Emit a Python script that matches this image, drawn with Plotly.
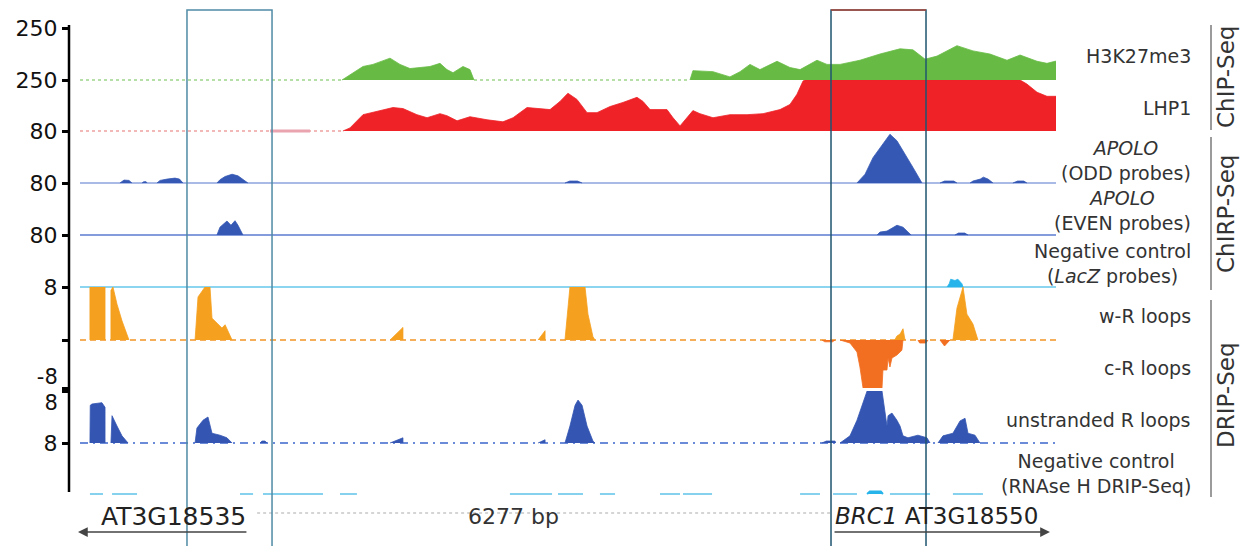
import plotly.graph_objects as go

PAGE_OFFSET = 8                          # default body margin of the html page
W, H = 1250 - PAGE_OFFSET, 546 - PAGE_OFFSET
VIEW_START, VIEW_END = 0, 6277          # bp shown in the browser window
FONT = 'DejaVu Sans'

# ---- ChIP-Seq coverage -------------------------------------------------------
H3K27_POS = [1685, 1736, 1820, 1884, 1994, 2058, 2122, 2187, 2251, 2315, 2360, 2399, 2463, 2508, 2534, None,
             3923, 3942, 4071, 4180, 4245, 4309, 4373, 4483, 4566, 4631, 4740, 4804, 4888, 5016, 5145,
             5274, 5357, 5435, 5512, 5640, 5743, 5852, 5962, 6046, 6155, 6219, 6271, 6277, 6277]
H3K27_VAL = [0, 25, 65, 75, 105, 75, 55, 60, 65, 80, 50, 35, 65, 50, 0, None,
             0, 45, 40, 15, 40, 75, 50, 90, 60, 50, 95, 75, 75, 95, 125,
             150, 145, 100, 115, 165, 140, 125, 95, 120, 90, 80, 90, 90, 0]

LHP1_POS = [1691, 1736, 1820, 1910, 2013, 2077, 2167, 2232, 2315, 2360, 2425, 2508, 2618, 2720, 2785,
            2875, 2939, 3023, 3087, 3138, 3196, 3261, 3325, 3409, 3492, 3582, 3621, 3666, 3775, 3814,
            3859, 3942, 3987, 4071, 4180, 4290, 4393, 4502, 4566, 4611, 4650, 4663, 6046, 6090, 6155,
            6219, 6258, 6277, 6277]
LHP1_VAL = [0, 15, 80, 95, 115, 110, 80, 65, 85, 75, 50, 70, 55, 45, 65,
            115, 110, 105, 145, 185, 155, 90, 90, 120, 140, 165, 145, 105, 105, 65,
            25, 100, 85, 65, 80, 80, 85, 105, 130, 180, 245, 250, 250, 230, 190,
            170, 170, 170, 0]
LHP1_LOW = [1222, 1479]     # weak signal stretch left of the LHP1 block

# ---- ChIRP-Seq coverage ------------------------------------------------------
ODD_POS = [257, 283, 315, 334, None, 399, 410, 425, 431, None, 495, 515, 560, 611, 640, 662, None,
           881, 900, 933, 978, 1016, 1048, 1080, None, 3119, 3150, 3200, 3229, None,
           4997, 5049, 5100, 5145, 5209, 5254, 5306, 5357, 5415, None, 5531, 5560, 5620, 5640, None,
           5724, 5743, 5790, 5810, 5840, 5872, None, 6000, 6030, 6070, 6090]
ODD_VAL = [0, 4.5, 4, 0, None, 0, 2, 2, 0, None, 0, 4, 6, 7.5, 6, 0, None,
           0, 5, 10, 13.5, 11, 6, 0, None, 0, 3, 3, 0, None,
           0, 13.5, 39, 54, 75, 65, 45, 24, 0, None, 0, 3, 3, 0, None,
           0, 3, 6, 9, 6, 0, None, 0, 3, 3, 0]

EVEN_POS = [881, 900, 945, 971, 997, 1016, 1048, None, 5126, 5145, 5190, 5254, 5293, 5338, 5345, None,
            5627, 5650, 5690, 5711]
EVEN_VAL = [0, 12, 21.5, 15, 22, 15, 0, None, 0, 4.5, 6, 15, 12, 1.5, 0, None,
            0, 3, 3, 0]

LACZ_POS = [5576, 5590, 5600, 5627, 5646, 5672, 5679]
LACZ_VAL = [0, 5, 12, 10, 12, 5, 0]

# ---- DRIP-Seq coverage -------------------------------------------------------
WR_POS = [64, 64, 161, 161, None, 199, 199, 212, 238, 270, 302, 315, None,
          740, 752, 759, 804, 836, 849, 881, 913, 933, 965, 978, None, 1994, 2077, 2077, None,
          2946, 2991, 2991, None, 3119, 3151, 3248, 3267, 3299, 3312, None,
          5240, 5254, 5274, 5293, 5306, None, 5614, 5640, 5679, 5704, 5743, 5775]
WR_VAL = [0, 8, 8, 0, None, 0, 7.5, 8, 5.4, 2.9, 0.6, 0, None,
          0, 4.1, 6.5, 8, 8, 3.3, 2.6, 1.8, 2.3, 0.6, 0, None, 0, 1.9, 0, None,
          0, 1.4, 0, None, 0, 8, 8, 3.9, 0.5, 0, None,
          0, 0.6, 0.9, 1.7, 0, None, 0, 4.8, 8, 3.9, 2.4, 0]

CR_POS = [4772, 4790, 4840, 4856, None, 4888, 4952, 4997, 5016, 5036, 5158, 5164, 5190, 5197, 5209,
          5222, 5254, 5286, 5293, None, 5389, 5400, 5440, 5454, None, 5531, 5560, 5595]
CR_VAL = [0, -0.3, -0.3, 0, None, 0, -0.5, -2, -4.5, -8, -8, -5, -5, -3, -4.5,
          -3, -2.5, -1.7, 0, None, 0, -0.5, -0.5, 0, None, 0, -1, 0]

UNSTR_POS = [64, 66, 77, 141, 161, 161, None, 199, 206, 238, 270, 309, None,
             740, 752, 791, 823, 849, 900, 945, 978, None, 1158, 1170, 1190, 1203, None,
             1994, 2077, 2077, None, 2946, 2991, 2991, None,
             3119, 3151, 3184, 3203, 3229, 3261, 3299, 3312, None, 4772, 4800, 4856, 4860, None,
             4888, 4952, 4997, 5029, 5062, 5158, 5177, 5190, 5197, 5222, 5254, 5274, 5293, 5325,
             5389, 5447, 5467, None, 5518, 5550, 5614, 5660, 5692, 5711, 5756, 5788]
UNSTR_VAL = [0, 5.8, 6.0, 6.2, 5.5, 0, None, 0, 4.2, 2.6, 1.1, 0, None,
             0, 2.3, 3.5, 4, 1.5, 1.2, 0.8, 0, None, 0, 0.3, 0.3, 0, None,
             0, 0.8, 0, None, 0, 0.5, 0, None,
             0, 2.6, 5.8, 6.6, 5.8, 2.6, 0.3, 0, None, 0, 0.3, 0.3, 0, None,
             0, 1.1, 3.5, 5.7, 8, 8, 4.9, 2.6, 4.2, 4.6, 3.5, 2.6, 1.1, 0.8,
             1.2, 0.8, 0, None, 0, 1.1, 1.5, 3.4, 3.8, 1.5, 1.2, 0]

RNASE_START = [64, 206, 1029, 1177, 1672, 2765, 3074, 3344, 3730, 3878, 4631, 4843, 5209, 5614]
RNASE_END = [148, 367, 1113, 1563, 1781, 3036, 3235, 3441, 3859, 4065, 4759, 4997, 5467, 5807]
RNASE_BUMP_POS = [5062, 5080, 5150, 5164]
RNASE_BUMP_VAL = [0, 0.4, 0.4, 0]

# ---- annotation --------------------------------------------------------------
GENE_LABELS = ['AT3G18535', '<i>BRC1</i> AT3G18550']
GENE_TAIL = [1080, 4843]
GENE_HEAD = [-13, 6238]
WINDOW_LABEL = '6277 bp'
WINDOW_LABEL_POS = 2785
HIGHLIGHT_START = [688, 4830]
HIGHLIGHT_END = [1235, 5441]


def py(p):
    # page pixel row -> paper fraction
    return 1 - (p - PAGE_OFFSET) / H


def pxx(p):
    # page pixel column -> paper fraction
    return (p - PAGE_OFFSET) / W


# axis id, top px, baseline px, max value, tick values, tick text, label shift, label size
TRACKS = [
    ('y', 28, 80, 250, [250], ['250'], 0, 22),
    ('y2', 80, 131, 250, [250], ['250'], 0, 22),
    ('y3', 131, 183, 80, [80], ['80'], 0, 22),
    ('y4', 183, 235, 80, [80], ['80'], 0, 22),
    ('y5', 235, 287, 80, [80], ['80'], 0, 22),
    ('y6', 287, 340, 8, [0, 8], ['', '8'], 0, 22),
    ('y7', 340, 388, -8, [-8], ['-8'], -11, 21),
    ('y8', 391, 443, 8, [8], ['8'], 12, 21),
    ('y9', 443, 494, 8, [8], ['8'], 0, 22),
]


def area(x, y, color, axis, lw=0.8):
    return go.Scatter(x=x, y=y, xaxis='x', yaxis=axis, mode='lines',
                      line=dict(color=color, width=lw), fill='tozeroy', fillcolor=color,
                      hoverinfo='skip', showlegend=False)


def segs(starts, ends):
    xs, ys = [], []
    for s, e in zip(starts, ends):
        xs += [s, e, None]
        ys += [0, 0, None]
    return xs, ys


fig = go.Figure()


def baseline(axis, x, color, width, dash='solid'):
    fig.add_trace(go.Scatter(x=x, y=[0 if v is not None else None for v in x], xaxis='x', yaxis=axis,
                             mode='lines', line=dict(color=color, width=width, dash=dash),
                             hoverinfo='skip', showlegend=False))


baseline('y', [VIEW_START, H3K27_POS[0], None, H3K27_POS[14], H3K27_POS[16]], '#9fd38a', 1.5, 'dot')
baseline('y2', [VIEW_START, LHP1_POS[0]], '#eea0a0', 1.5, 'dot')
baseline('y2', LHP1_LOW, '#e9a4b0', 3)
baseline('y3', [VIEW_START, VIEW_END], '#8ea3de', 1.5)
baseline('y4', [VIEW_START, VIEW_END], '#5b7bd0', 1.5)
baseline('y5', [VIEW_START, VIEW_END], '#8cd5f0', 2)
baseline('y6', [VIEW_START, VIEW_END], '#f5ae5a', 2, '6px,4px')
baseline('y8', [VIEW_START, VIEW_END], '#6b8bd8', 2, '8px,5px,2px,5px')

rx, ry = segs(RNASE_START, RNASE_END)
fig.add_trace(go.Scatter(x=rx, y=ry, xaxis='x', yaxis='y9', mode='lines',
                         line=dict(color='#86d2ee', width=2), hoverinfo='skip', showlegend=False))

fig.add_trace(area(H3K27_POS, H3K27_VAL, '#67bb45', 'y'))
fig.add_trace(area(LHP1_POS, LHP1_VAL, '#ee2227', 'y2'))
fig.add_trace(area(ODD_POS, ODD_VAL, '#3558b4', 'y3'))
fig.add_trace(area(EVEN_POS, EVEN_VAL, '#3558b4', 'y4'))
fig.add_trace(area(LACZ_POS, LACZ_VAL, '#27b4ea', 'y5'))
fig.add_trace(area(WR_POS, WR_VAL, '#f5a01e', 'y6'))
fig.add_trace(area(CR_POS, CR_VAL, '#f26f21', 'y7'))
fig.add_trace(area(UNSTR_POS, UNSTR_VAL, '#3456b2', 'y8'))
fig.add_trace(area(RNASE_BUMP_POS, RNASE_BUMP_VAL, '#27b4ea', 'y9', 2))

layout = dict(
    width=W, height=H,
    margin=dict(l=0, r=0, t=0, b=0, autoexpand=False),
    paper_bgcolor='white', plot_bgcolor='rgba(0,0,0,0)',
    font=dict(family=FONT, color='#333'),
    showlegend=False,
    xaxis=dict(domain=[pxx(80), pxx(1056)], range=[VIEW_START, VIEW_END], visible=False,
               anchor='y', automargin=False),
)

for axis, top, base, vmax, tv, tt, shift, fsize in TRACKS:
    key = 'yaxis' + axis[1:]
    span = base - top
    if vmax > 0:
        rng = [-vmax * 2 / span, vmax]
        dom = [py(base + 2), py(top)]
    else:
        rng = [vmax, -vmax * 2 / span]
        dom = [py(base), py(top - 2)]
    layout[key] = dict(
        domain=dom, range=rng, anchor='free', position=pxx(69), side='left',
        showgrid=False, zeroline=False, showline=False, fixedrange=True, automargin=False,
        tickmode='array', tickvals=tv, ticktext=tt,
        ticks='outside', ticklen=7, tickwidth=2.5, tickcolor='black',
        tickfont=dict(family=FONT, size=fsize, color='#111'),
        ticklabelshift=shift,
    )

fig.update_layout(**layout)

shapes = [
    # left value axis
    dict(type='line', xref='paper', yref='paper', x0=pxx(69), x1=pxx(69), y0=py(25), y1=py(492),
         line=dict(color='black', width=2.5)),
    # gene track baseline
    dict(type='line', xref='x', yref='paper', x0=1139, x1=4824, y0=py(513), y1=py(513),
         line=dict(color='#c8c8c8', width=1.5, dash='dot')),
    # group separators
    dict(type='line', xref='paper', yref='paper', x0=pxx(1211), x1=pxx(1211), y0=py(25), y1=py(130),
         line=dict(color='#7a7a7a', width=1.5)),
    dict(type='line', xref='paper', yref='paper', x0=pxx(1211), x1=pxx(1211), y0=py(137), y1=py(290),
         line=dict(color='#7a7a7a', width=1.5)),
    dict(type='line', xref='paper', yref='paper', x0=pxx(1211), x1=pxx(1211), y0=py(300), y1=py(497),
         line=dict(color='#7a7a7a', width=1.5)),
]
box_colors = ['#4f8aa5', '#1f5570']
for s, e, c in zip(HIGHLIGHT_START, HIGHLIGHT_END, box_colors):
    shapes.append(dict(type='rect', xref='x', yref='paper', x0=s, x1=e, y0=-0.05, y1=py(10),
                       line=dict(color=c, width=1.5), fillcolor='rgba(0,0,0,0)', layer='above'))
shapes.append(dict(type='line', xref='x', yref='paper', x0=HIGHLIGHT_START[1], x1=HIGHLIGHT_END[1],
                   y0=py(10), y1=py(10), line=dict(color='#b0483a', width=1.5), layer='above'))
fig.update_layout(shapes=shapes)

annotations = []
right_labels = [
    ('H3K27me3', 56), ('LHP1', 108),
    ('<i>APOLO</i><br>(ODD probes)', 160), ('<i>APOLO</i><br>(EVEN probes)', 211),
    ('Negative control<br>(<i>LacZ</i> probes)', 263),
    ('w-R loops', 316), ('c-R loops', 368), ('unstranded R loops', 420),
    ('Negative control<br>(RNAse H DRIP-Seq)', 473),
]
for txt, yy in right_labels:
    annotations.append(dict(text=txt, xref='paper', yref='paper', x=pxx(1193), y=py(yy),
                            xanchor='right', yanchor='middle', align='center', showarrow=False,
                            font=dict(family=FONT, size=19, color='#333')))

for txt, yy in [('ChIP-Seq', 77), ('ChIRP-Seq', 214), ('DRIP-Seq', 395)]:
    annotations.append(dict(text=txt, xref='paper', yref='paper', x=pxx(1226), y=py(yy),
                            xanchor='center', yanchor='middle', textangle=-90, showarrow=False,
                            font=dict(family=FONT, size=23, color='#333')))

# genes: label + strand arrow
annotations.append(dict(text=GENE_LABELS[0], xref='x', yref='paper', x=GENE_TAIL[0], y=py(516),
                        xanchor='right', yanchor='middle', showarrow=False,
                        font=dict(family=FONT, size=25, color='#222')))
annotations.append(dict(text=GENE_LABELS[1], xref='x', yref='paper', x=GENE_TAIL[1], y=py(516),
                        xanchor='left', yanchor='middle', showarrow=False,
                        font=dict(family=FONT, size=23, color='#222')))
annotations.append(dict(text=WINDOW_LABEL, xref='x', yref='paper', x=WINDOW_LABEL_POS, y=py(516),
                        xanchor='center', yanchor='middle', showarrow=False,
                        font=dict(family=FONT, size=22, color='#333')))
for tail, head in zip(GENE_TAIL, GENE_HEAD):
    annotations.append(dict(text='', xref='x', yref='paper', x=head, y=py(532),
                            axref='x', ax=tail, ayref='pixel', ay=0, showarrow=True,
                            arrowhead=2, arrowsize=1.3, arrowwidth=1.5, arrowcolor='#444'))

fig.update_layout(annotations=annotations)

fig.write_html('out.html')
